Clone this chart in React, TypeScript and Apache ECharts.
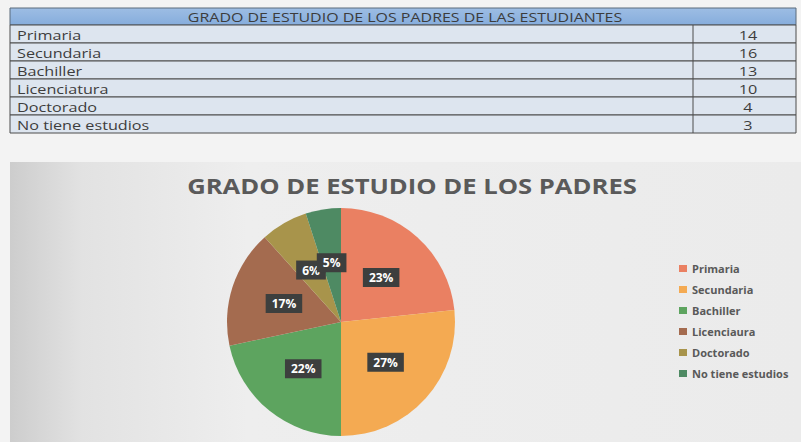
import React, { useEffect, useRef } from "react";
import * as echarts from "echarts";

// ---- data ----
const tableTitle = "GRADO DE ESTUDIO DE LOS PADRES DE LAS ESTUDIANTES";
const tableCategories = ["Primaria", "Secundaria", "Bachiller", "Licenciatura", "Doctorado", "No tiene estudios"];
const tableValues = [14, 16, 13, 10, 4, 3];

const chartTitle = "GRADO DE ESTUDIO DE LOS PADRES";
const chartCategories = ["Primaria", "Secundaria", "Bachiller", "Licenciaura", "Doctorado", "No tiene estudios"];
const chartValues = [14, 16, 13, 10, 4, 3];
// percentage labels as printed on the chart
const percentLabels = ["23%", "27%", "22%", "17%", "6%", "5%"];
const sliceColors = ["#ea8062", "#f4aa52", "#5da45f", "#a46b4f", "#a8944b", "#4e8a63"];

const FONT = "'Open Sans', 'Noto Sans', sans-serif";

export default function App() {
  const ref = useRef<HTMLDivElement>(null);
  useEffect(() => {
    document.body.style.margin = "0";
    const chart = echarts.init(ref.current!, null, { renderer: "svg" });

    const tX = 10, tW = 786, tY = 8, hH = 17, rH = 18, divX = 693;
    const elements: any[] = [];
    // page background
    elements.push({ type: "rect", shape: { x: 0, y: 0, width: 801, height: 442 }, style: { fill: "#f3f3f3" }, silent: true });
    // chart area background
    elements.push({
      type: "rect", shape: { x: 10, y: 162, width: 791, height: 280 },
      style: { fill: new echarts.graphic.LinearGradient(0, 0, 1, 0, [
        { offset: 0, color: "#cdcdcd" }, { offset: 0.09, color: "#e2e2e2" }, { offset: 0.3, color: "#eeeeee" }, { offset: 1, color: "#ebebeb" }]) },
      silent: true,
    });
    // table header
    elements.push({
      type: "rect", shape: { x: tX, y: tY, width: tW, height: hH },
      style: { fill: new echarts.graphic.LinearGradient(0, 0, 0, 1, [
        { offset: 0, color: "#9dbde4" }, { offset: 1, color: "#86addc" }]), stroke: "#5a6a7a", lineWidth: 1 },
      silent: true,
    });
    elements.push({
      type: "text", x: 405, y: tY + hH / 2 + 0.5, scaleX: 1.33,
      style: { text: tableTitle, align: "center", verticalAlign: "middle", fontFamily: FONT, fontSize: 12, fill: "#3c3c3c" },
      silent: true,
    });
    tableCategories.forEach((c, i) => {
      const y = tY + hH + i * rH;
      elements.push({ type: "rect", shape: { x: tX, y, width: tW, height: rH }, style: { fill: "#dde5ef", stroke: "#4d4d4d", lineWidth: 1 }, silent: true });
      elements.push({
        type: "text", x: 17, y: y + rH / 2 + 0.5, scaleX: 1.2,
        style: { text: c, align: "left", verticalAlign: "middle", fontFamily: FONT, fontSize: 13.5, fill: "#3d3d3d" }, silent: true,
      });
      elements.push({
        type: "text", x: 748, y: y + rH / 2 + 0.5, scaleX: 1.2,
        style: { text: String(tableValues[i]), align: "center", verticalAlign: "middle", fontFamily: FONT, fontSize: 13.5, fill: "#3d3d3d" }, silent: true,
      });
    });
    elements.push({ type: "line", shape: { x1: divX, y1: tY + hH, x2: divX, y2: tY + hH + rH * tableCategories.length }, style: { stroke: "#4d4d4d", lineWidth: 1 }, silent: true });
    // chart title
    elements.push({
      type: "text", x: 412, y: 186, scaleX: 1.22,
      style: { text: chartTitle, align: "center", verticalAlign: "middle", fontFamily: FONT, fontSize: 21, fontWeight: "bold", fill: "#5a5a5a" },
      silent: true,
    });

    chart.setOption({
      animation: false,
      color: sliceColors,
      graphic: { elements },
      legend: {
        orient: "vertical",
        left: 674,
        top: 258,
        itemWidth: 8,
        itemHeight: 7,
        itemGap: 10,
        icon: "rect",
        data: chartCategories,
        textStyle: { fontFamily: FONT, fontSize: 11, fontWeight: "bold", color: "#595959", lineHeight: 11 },
      },
      series: [
        {
          type: "pie",
          center: [341, 322],
          radius: 114,
          startAngle: 90,
          clockwise: true,
          avoidLabelOverlap: false,
          labelLayout: { hideOverlap: false },
          data: chartCategories.map((n, i) => ({ name: n, value: chartValues[i] })),
          label: {
            show: true,
            position: "inside",
            formatter: (p: any) => percentLabels[p.dataIndex],
            color: "#ffffff",
            fontFamily: FONT,
            fontSize: 12,
            fontWeight: "bold",
            backgroundColor: "#3d3f3e",
            padding: [4, 6, 3, 6],
          },
          labelLine: { show: false },
          itemStyle: { borderWidth: 0 },
          emphasis: { disabled: true },
        },
      ],
    });
    return () => chart.dispose();
  }, []);
  return <div ref={ref} style={{ width: 801, height: 442 }} />;
}
